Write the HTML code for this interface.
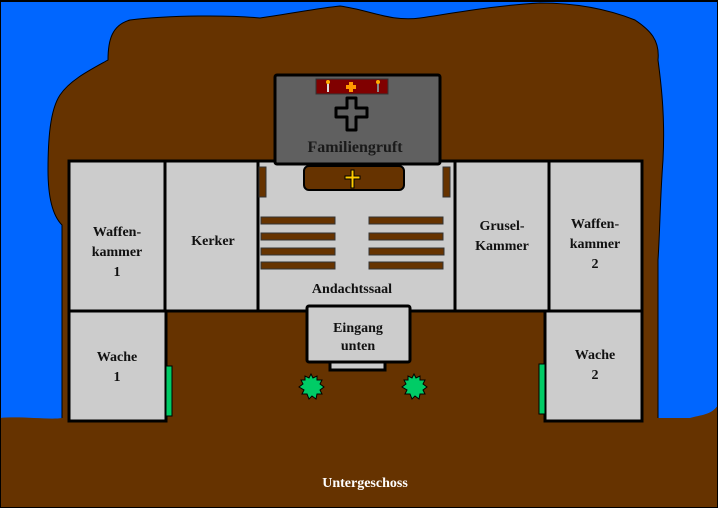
<!DOCTYPE html>
<html><head><meta charset="utf-8"><style>
html,body{margin:0;padding:0;background:#0066ff;}
svg{display:block}
text{font-family:"Liberation Serif",serif;font-weight:bold;font-size:14px;fill:#111;text-anchor:middle}
</style></head><body>
<svg width="718" height="508" viewBox="0 0 718 508">
<rect x="0" y="0" width="718" height="508" fill="#0066ff"/>
<rect x="0" y="0" width="718" height="2" fill="#000"/>
<path d="M62,420 L62,225 C52,215 48,195 48,170 C48,140 50,110 60,95 C70,80 90,70 108,60 C108,40 112,25 130,20 C170,15 230,15 260,18 C300,12 320,8 340,6 C370,10 390,22 420,18 C460,12 500,5 540,3 C580,3 610,10 635,20 C650,30 660,40 658,60 C662,90 665,120 663,160 C660,200 660,230 658,260 L658,420 Z" fill="#663300" stroke="#000" stroke-width="1"/>
<path d="M0,420 L0,508 L718,508 L718,405 C712,415 700,415 690,418 L650,418 L62,418 C50,420 20,416 0,418 Z" fill="#663300"/>
<rect x="0" y="0" width="718" height="508" fill="none" stroke="#000" stroke-width="2"/>
<g stroke="#000" stroke-width="3" fill="#cccccc">
<rect x="69" y="161" width="96" height="150"/>
<rect x="165" y="161" width="93" height="150"/>
<rect x="258" y="161" width="197" height="150"/>
<rect x="455" y="161" width="94" height="150"/>
<rect x="549" y="161" width="93" height="150"/>
<rect x="69" y="311" width="97" height="110"/>
<rect x="545" y="311" width="97" height="110"/>
<rect x="330" y="360" width="55" height="10"/>
<rect x="307" y="306" width="103" height="56" rx="2"/>
</g>
<g fill="#00cc66" stroke="#000" stroke-width="1">
<rect x="166" y="366" width="6" height="50"/>
<rect x="539" y="364" width="6" height="50"/>
</g>
<g fill="#00cc66" stroke="#000" stroke-width="1">
<polygon points="311,374 313,378 317,376 317,380 322,380 320,384 324,387 320,390 322,394 317,394 316,399 312,396 309,399 307,394 302,394 304,390 299,387 303,384 301,380 305,380 305,376 309,378"/>
<polygon points="414,374 416,378 420,376 420,380 425,380 423,384 427,387 423,390 425,394 420,394 419,399 415,396 412,399 410,394 405,394 407,390 402,387 406,384 404,380 408,380 408,376 412,378"/>
</g>
<rect x="275" y="75" width="165" height="89" rx="2" fill="#606060" stroke="#000" stroke-width="3"/>
<rect x="316" y="79" width="72" height="15" fill="#800000" stroke="#333" stroke-width="1"/>
<rect x="327" y="82" width="2" height="10" fill="#ddd"/><circle cx="328" cy="82" r="2" fill="#ffaa00"/>
<rect x="377" y="82" width="2" height="10" fill="#888"/><circle cx="378" cy="82" r="2" fill="#ffaa00"/>
<path d="M349,82h4v3h3v4h-3v3h-4v-3h-3v-4h3z" fill="#ff9900"/>
<path d="M347,98h9v10h11v9h-11v13h-9v-13h-11v-9h11z" fill="#606060" stroke="#000" stroke-width="3" stroke-linejoin="round"/>
<text x="355" y="152" style="font-size:16px;fill:#1a1a1a">Familiengruft</text>
<rect x="304" y="166" width="100" height="24" rx="5" fill="#663300" stroke="#000" stroke-width="2"/>
<path d="M351,170h3v6h6v3h-6v9h-3v-9h-6v-3h6z" fill="#ffcc00" stroke="#000" stroke-width="1"/>
<g fill="#663300" stroke="#333" stroke-width="1">
<rect x="259" y="167" width="7" height="30"/>
<rect x="443" y="167" width="7" height="30"/>
<rect x="261" y="217" width="74" height="7"/><rect x="369" y="217" width="74" height="7"/>
<rect x="261" y="233" width="74" height="7"/><rect x="369" y="233" width="74" height="7"/>
<rect x="261" y="248" width="74" height="7"/><rect x="369" y="248" width="75" height="7"/>
<rect x="261" y="262" width="74" height="7"/><rect x="369" y="262" width="74" height="7"/>
</g>
<text x="117" y="236">Waffen-</text><text x="117" y="256">kammer</text><text x="117" y="276">1</text>
<text x="213" y="245">Kerker</text>
<text x="352" y="293">Andachtssaal</text>
<text x="502" y="230">Grusel-</text><text x="502" y="250">Kammer</text>
<text x="595" y="228">Waffen-</text><text x="595" y="248">kammer</text><text x="595" y="268">2</text>
<text x="358" y="332">Eingang</text><text x="358" y="350">unten</text>
<text x="117" y="361">Wache</text><text x="117" y="381">1</text>
<text x="595" y="359">Wache</text><text x="595" y="379">2</text>
<text x="365" y="487" style="fill:#fff">Untergeschoss</text>
</svg>
</body></html>
